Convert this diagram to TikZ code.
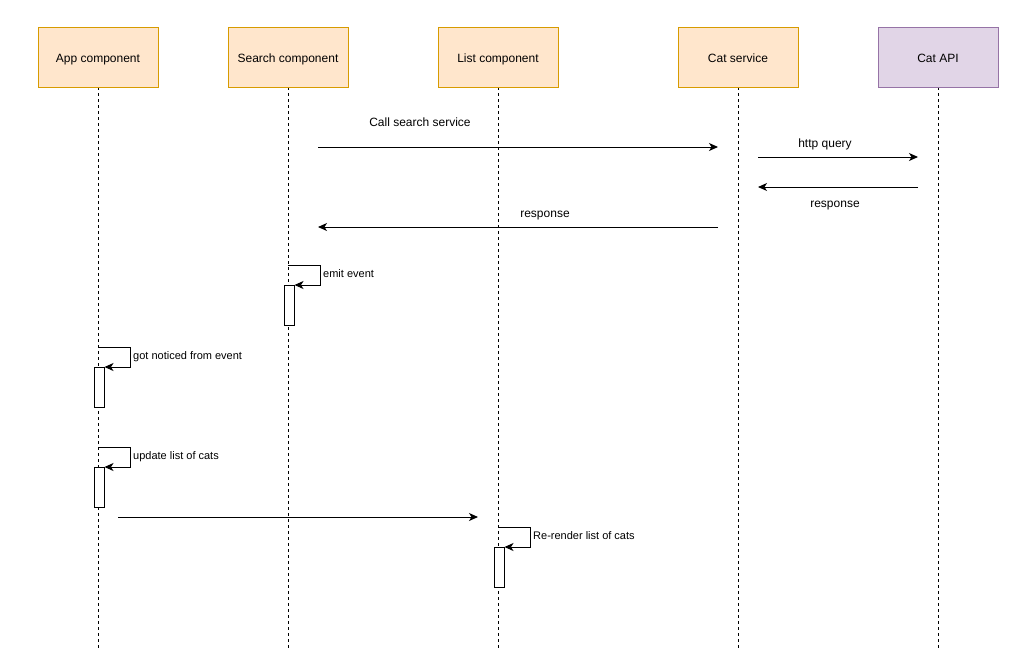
\documentclass[tikz,border=0pt]{standalone}
\usepackage{fontspec}
\setmainfont{Liberation Sans}
\usetikzlibrary{
  arrows.meta,
  math,
}
\definecolor{partfill}{HTML}{FFE6CC}
\definecolor{partdraw}{HTML}{D79B00}
\definecolor{apifill}{HTML}{E1D5E7}
\definecolor{apidraw}{HTML}{9673A6}

\begin{document}
\begin{tikzpicture}[
  x=1pt,
  y=-1pt,
  part/.style n args={2}{
    draw=#2,
    fill=#1,
    line width=1pt,
    minimum width=120,
    minimum height=60,
    inner sep=0pt,
    text height=10.6pt,
    text depth=0.6pt,
    font={\fontsize{12}{14}\selectfont},
  },
  actor/.style={
    part={partfill}{partdraw},
  },
  extern/.style={
    part={apifill}{apidraw},
  },
  lifeline/.style={
    draw=black,
    line width=0.8pt,
    dash pattern=on 3pt off 3pt,
  },
  arrow/.style={
    -{Stealth[length=9pt,width=8pt,inset=2.5pt]},
    draw=black,
    line width=1pt,
  },
  activation/.style={
    draw=black,
    fill=white,
    line width=1pt,
    minimum width=10,
    minimum height=40,
    inner sep=0pt,
  },
  msg/.style={
    inner sep=0pt,
    text height=10.6pt,
    text depth=0.6pt,
    font={\fontsize{12}{14}\selectfont},
  },
  self msg/.style={
    inner sep=0pt,
    anchor=west,
    text height=9.9pt,
    text depth=0.4pt,
    font={\fontsize{11}{13}\selectfont},
  },
]
  \useasboundingbox (0,0) rectangle (1023,649);

  %%%%%%%%%%%%%%%%%%%% PARTICIPANTS %%%%%%%%%%%%%%%%%%%%

  \foreach \n/\x/\t/\s in {
    app/98/App component/actor,
    search/288/Search component/actor,
    list/498/List component/actor,
    service/738/Cat service/actor,
    api/938/Cat API/extern%
  } {
    \coordinate (\n-end) at (\x,649);
    \draw[lifeline] (\x,87) -- (\n-end);
    \node[\s] (\n) at (\x,57) {\t};
  }

  %%%%%%%%%%%%%%%%%%%% SEARCH REQUEST %%%%%%%%%%%%%%%%%%%%

  \coordinate (call-from) at (318,147);
  \coordinate (call-to) at (718,147);
  \draw[arrow] (call-from) -- (call-to);
  \node[msg] (call-label) at (420,121) {Call search service};

  \coordinate (query-from) at (758,157);
  \coordinate (query-to) at (918,157);
  \draw[arrow] (query-from) -- (query-to);
  \node[msg] (query-label) at (825,142) {http query};

  \coordinate (api-resp-from) at (918,187);
  \coordinate (api-resp-to) at (758,187);
  \draw[arrow] (api-resp-from) -- (api-resp-to);
  \node[msg] (api-resp-label) at (835,202) {response};

  \coordinate (resp-from) at (718,227);
  \coordinate (resp-to) at (318,227);
  \draw[arrow] (resp-from) -- (resp-to);
  \node[msg] (resp-label) at (545,212) {response};

  %%%%%%%%%%%%%%%%%%%% SELF CALLS %%%%%%%%%%%%%%%%%%%%

  \foreach \n/\l/\y/\t in {
    emit/search/265/emit event,
    notice/app/347/got noticed from event,
    update/app/447/update list of cats,
    render/list/527/Re-render list of cats%
  } {
    \coordinate (\n-start) at (\l |- 0,\y);
    \node[activation,anchor=north] (\n-box) at ([xshift=1]\n-start |- 0,{\y + 20}) {};
    \draw[arrow] (\n-start) -- ++(32,0) |- (\n-box.north east);
    \node[self msg] (\n-label) at ([xshift=35]\n-start |- 0,{\y + 8}) {\t};
  }

  %%%%%%%%%%%%%%%%%%%% NOTIFY LIST %%%%%%%%%%%%%%%%%%%%

  \coordinate (notify-from) at (118,517);
  \coordinate (notify-to) at (478,517);
  \draw[arrow] (notify-from) -- (notify-to);
\end{tikzpicture}
\end{document}
